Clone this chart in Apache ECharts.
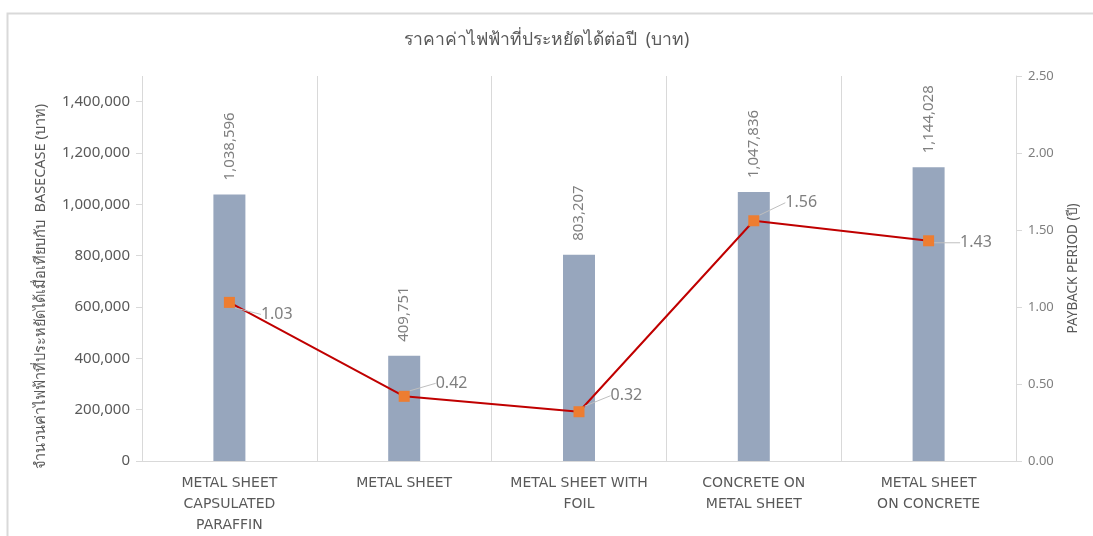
<!DOCTYPE html>
<html>
<head>
<meta charset="utf-8">
<script src="https://cdn.jsdelivr.net/npm/echarts@6/dist/echarts.min.js"></script>
<style>
  html, body { margin: 0; padding: 0; background: #fff; }
  #chart { width: 1093px; height: 536px; }
</style>
</head>
<body>
<div id="chart"></div>
<script>
// Roof options compared against the base case
const categories = [
  'METAL SHEET\nCAPSULATED\nPARAFFIN',
  'METAL SHEET',
  'METAL SHEET WITH\nFOIL',
  'CONCRETE ON\nMETAL SHEET',
  'METAL SHEET\nON CONCRETE'
];
// Yearly electricity savings (baht)
const savings = [1038596, 409751, 803207, 1047836, 1144028];
// Payback period (years)
const payback = [1.03, 0.42, 0.32, 1.56, 1.43];

const titleText = 'ราคาค่าไฟฟ้าที่ประหยัดได้ต่อปี  (บาท)';
const leftAxisName = 'จำนวนค่าไฟฟ้าที่ประหยัดได้เมื่อเทียบกับ  BASECASE (บาท)';
const rightAxisName = 'PAYBACK PERIOD (ปี)';

// vertical nudges for the payback labels so they clear the line
const paybackLabelDy = [12, -13, -16, -18, 2];

const gray = '#595959';
const lightGray = '#7f7f7f';
const gridGray = '#d9d9d9';
const font = '"Noto Sans", "Liberation Sans", sans-serif';

const chart = echarts.init(document.getElementById('chart'), null, { renderer: 'canvas' });

chart.setOption({
  backgroundColor: '#ffffff',
  animation: false,
  title: {
    text: titleText,
    left: 'center',
    top: 26,
    textStyle: { color: gray, fontSize: 17.5, fontWeight: 'normal', fontFamily: font }
  },
  graphic: [{
    type: 'rect',
    shape: { x: 7.5, y: 13.5, width: 1200, height: 700 },
    style: { fill: 'none', stroke: gridGray, lineWidth: 2 },
    silent: true
  }],
  grid: { left: 142, right: 77, top: 76, bottom: 73 },
  xAxis: {
    type: 'category',
    data: categories,
    boundaryGap: true,
    axisLine: { show: true, lineStyle: { color: gridGray } },
    axisTick: { show: false },
    splitLine: { show: true, lineStyle: { color: gridGray, width: 1 } },
    axisLabel: {
      color: gray,
      fontSize: 14,
      fontFamily: '"DejaVu Sans", sans-serif',
      lineHeight: 21,
      margin: 12,
      interval: 0
    }
  },
  yAxis: [{
    type: 'value',
    min: 0,
    max: 1500000,
    interval: 200000,
    name: leftAxisName,
    nameLocation: 'middle',
    nameGap: 94,
    nameTextStyle: { color: gray, fontSize: 14.5, fontFamily: font, padding: [0, 36, 0, 0] },
    axisLine: { show: false },
    axisTick: { show: true, length: 6, lineStyle: { color: gridGray } },
    splitLine: { show: false },
    axisLabel: {
      color: gray,
      fontSize: 15,
      fontFamily: font,
      margin: 12,
      showMaxLabel: false,
      formatter: v => v.toLocaleString('en-US')
    }
  }, {
    type: 'value',
    min: 0,
    max: 2.5,
    interval: 0.5,
    position: 'right',
    name: rightAxisName,
    nameLocation: 'middle',
    nameGap: 50,
    nameTextStyle: { color: gray, fontSize: 13.5, fontFamily: font },
    axisLine: { show: true, lineStyle: { color: gridGray } },
    axisTick: { show: true, length: 6, lineStyle: { color: gridGray } },
    splitLine: { show: false },
    axisLabel: {
      color: lightGray,
      fontSize: 13,
      fontFamily: font,
      margin: 12,
      formatter: v => v.toFixed(2)
    }
  }],
  series: [{
    type: 'bar',
    data: savings,
    barWidth: 32,
    itemStyle: { color: '#97a6bd' },
    label: {
      show: true,
      position: 'top',
      rotate: 90,
      align: 'left',
      verticalAlign: 'middle',
      distance: 14,
      color: lightGray,
      fontSize: 15,
      fontFamily: font,
      formatter: p => p.value.toLocaleString('en-US')
    }
  }, {
    type: 'line',
    yAxisIndex: 1,
    data: payback,
    symbol: 'rect',
    symbolSize: 11,
    lineStyle: { color: '#c00000', width: 2 },
    itemStyle: { color: '#ed7d31' },
    label: {
      show: true,
      position: 'right',
      distance: 6,
      color: lightGray,
      fontSize: 16,
      fontFamily: font,
      formatter: p => p.value.toFixed(2)
    },
    labelLine: { show: true, lineStyle: { color: '#bfbfbf', width: 1 } },
    labelLayout: p => ({ dx: 20, dy: paybackLabelDy[p.dataIndex] }),
    z: 5
  }]
});
</script>
</body>
</html>
